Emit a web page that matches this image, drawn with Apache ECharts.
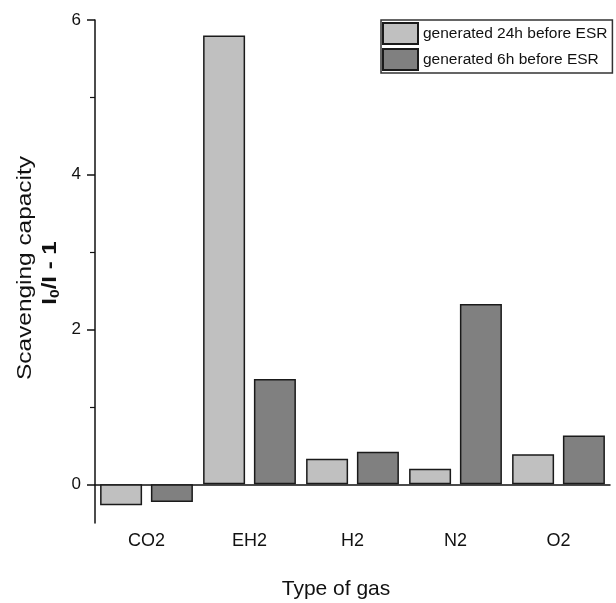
<!DOCTYPE html>
<html>
<head>
<meta charset="utf-8">
<script src="https://cdn.jsdelivr.net/npm/echarts@6/dist/echarts.min.js"></script>
<style>
html,body{margin:0;padding:0;background:#fff;}
#chart{width:616px;height:603px;}
</style>
</head>
<body>
<div id="chart"></div>
<script>
var categories = ['CO2', 'EH2', 'H2', 'N2', 'O2'];
var series24h = [-0.27, 5.80, 0.33, 0.20, 0.39];
var series6h = [-0.23, 1.36, 0.42, 2.33, 0.63];
var seriesNames = ['generated 24h before ESR', 'generated 6h before ESR'];
var majorTicks = [0, 2, 4, 6];
var minorTicks = [1, 3, 5];

var FONT = 'Liberation Sans';
var chart = echarts.init(document.getElementById('chart'));
chart.setOption({
  animation: false,
  backgroundColor: '#fff',
  textStyle: { fontFamily: FONT },
  grid: { left: 95, right: 6, top: 20, bottom: 80, containLabel: false },
  legend: {
    orient: 'vertical',
    left: 381,
    top: 20,
    icon: 'rect',
    itemWidth: 35,
    itemHeight: 21,
    itemGap: 3,
    padding: [2, 5, 2, 1],
    borderColor: '#333',
    borderWidth: 1.5,
    textStyle: { fontFamily: FONT, fontSize: 15.5, color: '#111' },
    data: seriesNames
  },
  xAxis: [
    {
      type: 'category',
      data: categories,
      axisLine: { show: true, onZero: true, onZeroAxisIndex: 0, lineStyle: { color: '#111', width: 1.5 } },
      axisTick: { show: false },
      axisLabel: { show: false },
      splitLine: { show: false }
    },
    {
      type: 'category',
      data: categories,
      position: 'bottom',
      axisLine: { show: false, onZero: false },
      axisTick: { show: false },
      axisLabel: { show: true, margin: 9, fontSize: 18, color: '#111', fontFamily: FONT },
      splitLine: { show: false }
    }
  ],
  yAxis: [
    {
      type: 'value',
      min: -0.5,
      max: 6,
      position: 'left',
      axisLine: { show: true, onZero: false, lineStyle: { color: '#111', width: 1.5 } },
      axisTick: { show: true, customValues: majorTicks, length: 8, lineStyle: { color: '#111', width: 1.5 } },
      axisLabel: { show: true, customValues: majorTicks, margin: 14, fontSize: 17, color: '#111', fontFamily: FONT },
      splitLine: { show: false }
    },
    {
      type: 'value',
      min: -0.5,
      max: 6,
      position: 'left',
      axisLine: { show: false, onZero: false },
      axisTick: { show: true, customValues: minorTicks, length: 5, lineStyle: { color: '#111', width: 1.2 } },
      axisLabel: { show: false },
      splitLine: { show: false }
    }
  ],
  series: [
    {
      name: seriesNames[0],
      type: 'bar',
      xAxisIndex: 0,
      yAxisIndex: 0,
      data: series24h,
      barWidth: 42,
      barGap: '21%',
      itemStyle: { color: '#c0c0c0', borderColor: '#1a1a1a', borderWidth: 1.5 }
    },
    {
      name: seriesNames[1],
      type: 'bar',
      xAxisIndex: 0,
      yAxisIndex: 0,
      data: series6h,
      barWidth: 42,
      barGap: '21%',
      itemStyle: { color: '#808080', borderColor: '#1a1a1a', borderWidth: 1.5 }
    }
  ],
  graphic: [
    {
      type: 'text',
      x: 25,
      y: 268,
      rotation: Math.PI / 2,
      scaleX: 1.22,
      style: {
        text: 'Scavenging capacity',
        fontFamily: FONT,
        fontSize: 20,
        fill: '#111',
        align: 'center',
        verticalAlign: 'middle'
      }
    },
    {
      type: 'text',
      x: 50,
      y: 273,
      rotation: Math.PI / 2,
      scaleX: 1.2,
      style: {
        text: '{m|I}{s|0}{m|/I - 1}',
        fontFamily: FONT,
        fill: '#111',
        align: 'center',
        verticalAlign: 'middle',
        rich: {
          m: { fontFamily: FONT, fontSize: 20, fontWeight: 'bold', fill: '#111', lineHeight: 24, verticalAlign: 'middle' },
          s: { fontFamily: FONT, fontSize: 13, fontWeight: 'bold', fill: '#111', lineHeight: 24, verticalAlign: 'bottom' }
        }
      }
    },
    {
      type: 'text',
      x: 336,
      y: 589,
      style: {
        text: 'Type of gas',
        fontFamily: FONT,
        fontSize: 21,
        fill: '#111',
        align: 'center',
        verticalAlign: 'middle'
      }
    }
  ]
});
</script>
</body>
</html>
